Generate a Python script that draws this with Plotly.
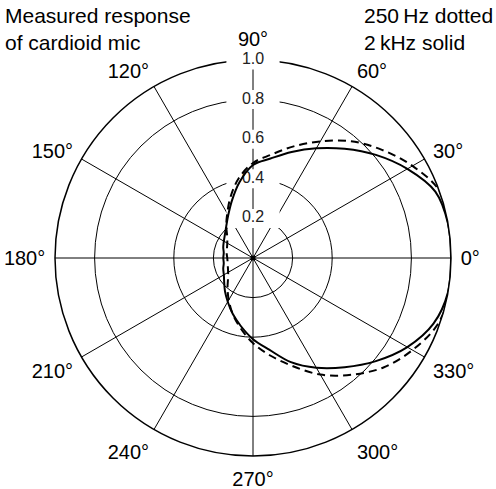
import plotly.graph_objects as go

# ---- data ----
angles = list(range(0, 360, 10)) + [360]
r_2khz = [1.00, 1.00, 0.98, 0.90, 0.81, 0.72, 0.64, 0.57, 0.51, 0.47,
          0.39, 0.31, 0.25, 0.21, 0.185, 0.17, 0.16, 0.15, 0.15, 0.15,
          0.16, 0.17, 0.19, 0.22, 0.255, 0.30, 0.35, 0.41, 0.47, 0.56,
          0.64, 0.72, 0.81, 0.90, 0.97, 1.00, 1.00]
r_250hz = [1.01, 1.01, 1.00, 0.93, 0.85, 0.77, 0.68, 0.60, 0.53, 0.48,
           0.41, 0.33, 0.26, 0.21, 0.17, 0.15, 0.14, 0.135, 0.13, 0.13,
           0.135, 0.145, 0.165, 0.20, 0.245, 0.30, 0.36, 0.43, 0.50, 0.58,
           0.68, 0.77, 0.86, 0.93, 0.99, 1.01, 1.01]
grid_circles = [0.2, 0.4, 0.8, 1.0]
radial_labels = [0.2, 0.4, 0.6, 0.8, 1.0]
angle_ticks = list(range(0, 360, 30))
angle_labels = [f"{a}°" for a in angle_ticks]

FONT = "Liberation Sans, Arial, Helvetica, sans-serif"

fig = go.Figure()

# radial labels on the 90° spoke, with white backing to break the lines
fig.add_trace(go.Scatterpolar(
    r=radial_labels, theta=[90] * len(radial_labels),
    mode="markers+text",
    text=[f"{v:.1f}" for v in radial_labels],
    textposition="middle center",
    textfont=dict(size=16, color="#222", family=FONT),
    marker=dict(symbol="line-ew", size=38, color="white",
                line=dict(color="white", width=19)),
    cliponaxis=False, hoverinfo="skip", showlegend=False))

fig.add_trace(go.Scatterpolar(
    r=r_250hz, theta=angles, mode="lines",
    line=dict(color="black", width=2, dash="8px,5px", shape="spline"),
    name="250 Hz", showlegend=False))

fig.add_trace(go.Scatterpolar(
    r=r_2khz, theta=angles, mode="lines",
    line=dict(color="black", width=2, shape="spline"),
    name="2 kHz", showlegend=False))

fig.add_trace(go.Scatterpolar(
    r=[0], theta=[0], mode="markers",
    marker=dict(color="black", size=5), hoverinfo="skip", showlegend=False))

fig.update_layout(
    width=496, height=489,
    margin=dict(l=0, r=0, t=0, b=0),
    paper_bgcolor="white",
    font=dict(family=FONT, color="black", size=20),
    polar=dict(
        domain=dict(x=[55 / 496, 451 / 496], y=[33 / 489, 429 / 489]),
        bgcolor="white",
        radialaxis=dict(range=[0, 1], tickvals=grid_circles,
                        showticklabels=False, ticks="", showline=False,
                        showgrid=True, gridcolor="black", gridwidth=1.2,
                        layer="below traces"),
        angularaxis=dict(tickvals=angle_ticks, ticktext=angle_labels,
                         direction="counterclockwise", rotation=0,
                         showline=True, linecolor="black", linewidth=1.5,
                         showgrid=True, gridcolor="black", gridwidth=0.9,
                         ticks="outside", ticklen=5,
                         tickcolor="rgba(0,0,0,0)",
                         tickfont=dict(size=20, family=FONT),
                         layer="below traces"),
    ),
    annotations=[
        dict(text="Measured response<br>of cardioid mic",
             x=3 / 496, y=1 - 2 / 489, xref="paper", yref="paper",
             xanchor="left", yanchor="top", align="left", showarrow=False,
             font=dict(size=21, family=FONT)),
        dict(text="250\u2009Hz dotted<br>2\u2009kHz solid",
             x=362 / 496, y=1 - 2 / 489, xref="paper", yref="paper",
             xanchor="left", yanchor="top", align="left", showarrow=False,
             font=dict(size=21, family=FONT)),
    ],
)

fig.write_html("out.html", config={"displayModeBar": False},
               post_script="document.body.style.margin='0';")
